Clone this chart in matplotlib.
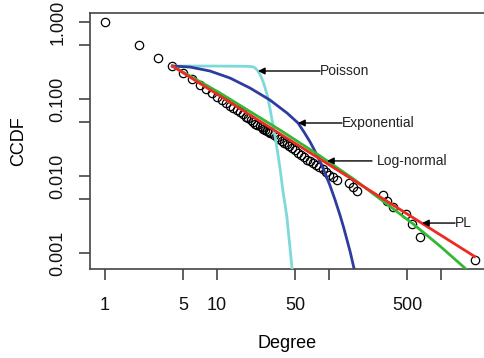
import matplotlib
matplotlib.use("Agg")
import matplotlib.pyplot as plt

plt.rcParams['font.family'] = ['Liberation Sans', 'DejaVu Sans']

# observed degree distribution (CCDF)
degree = [1, 2, 3, 4, 5, 6, 7, 8, 9, 10, 11, 12, 13, 14, 15, 16, 17, 18, 19, 20,
          21, 22, 23, 24, 25, 26, 27, 28, 29, 30, 32, 34, 36, 38, 40, 42, 44, 47,
          50, 53, 56, 60, 64, 68, 72, 77, 82, 88, 94, 100, 108, 118, 151, 165, 178,
          304, 330, 373, 487, 551, 650, 2013]
ccdf = [1.0, 0.50, 0.34, 0.268, 0.215, 0.18, 0.152, 0.133, 0.118, 0.106, 0.097,
        0.089, 0.082, 0.076, 0.071, 0.067, 0.063, 0.059, 0.056, 0.053, 0.051, 0.048,
        0.046, 0.044, 0.043, 0.041, 0.040, 0.038, 0.037, 0.036, 0.034, 0.032, 0.030,
        0.0285, 0.027, 0.0257, 0.0245, 0.023, 0.0215, 0.0200, 0.0188, 0.0175, 0.0163,
        0.0155, 0.0146, 0.0138, 0.0130, 0.0122, 0.0113, 0.0104, 0.0096, 0.0088,
        0.0080, 0.0072, 0.0064, 0.0056, 0.0048, 0.0040, 0.0032, 0.0024, 0.0016, 0.0008]

# fitted models
pois_x = [4, 8, 14, 18, 19.5, 20.9, 22.0, 23.2, 24.4, 25.7, 27.0, 28.5, 30.0,
          31.6, 33.3, 35.1, 37.0, 38.8, 40.5, 42.2, 43.5, 44.9, 46.7, 48.0]
pois_y = [0.268, 0.268, 0.267, 0.266, 0.265, 0.262, 0.252, 0.231, 0.204, 0.171,
          0.137, 0.103, 0.070, 0.046, 0.030, 0.0187, 0.0110, 0.00638, 0.0043,
          0.00285, 0.0018, 0.00116, 0.00064, 0.0004]
exp_x = [4, 5.74, 8.66, 13.1, 19.7, 29.7, 42.2, 52.9, 60, 67.7, 75, 83.1, 92,
         102, 113, 125, 135, 145, 155, 164, 172, 176]
exp_y = [0.268, 0.260, 0.231, 0.187, 0.139, 0.0971, 0.0658, 0.0488, 0.037,
         0.0278, 0.0210, 0.0155, 0.0110, 0.00755, 0.00495, 0.00315, 0.00216,
         0.00147, 0.00102, 0.000715, 0.00053, 0.00045]
lnorm_x = [4, 10.6, 36.5, 83.2, 170.7, 551, 980, 1671, 2140]
lnorm_y = [0.268, 0.120, 0.0396, 0.0182, 0.00887, 0.00245, 0.00123, 0.00062,
           0.00045]
pl_x = [4, 2000]
pl_y = [0.268, 0.0009]

# arrow labels: text, arrow tip (x, y), text x
labels = ['Poisson', 'Exponential', 'Log-normal', 'PL']
tip_x = [23.2, 52.9, 96, 677]
tip_y = [0.231, 0.0488, 0.0157, 0.00245]
line_end_x = [83.2, 130.6, 242, 1334]
text_x = [83.2, 130.6, 268, 1334]

fig = plt.figure(figsize=(4.84, 3.58), dpi=100)
ax = fig.add_axes([90 / 484, 89 / 358, 1 - 90 / 484, (269 - 13) / 358])

ax.plot(degree, ccdf, 'o', mfc='none', mec='black', ms=6, mew=0.9, zorder=2)
ax.plot(pois_x, pois_y, color='#7ed9d9', lw=2, zorder=3)
ax.plot(exp_x, exp_y, color='#2f3b9e', lw=2, zorder=3)
ax.plot(lnorm_x, lnorm_y, color='#33b833', lw=2, zorder=3)
ax.plot(pl_x, pl_y, color='#ee2a22', lw=2, zorder=4)

for lab, tx, ty, lx, xx in zip(labels, tip_x, tip_y, line_end_x, text_x):
    ax.annotate('', xy=(tx, ty), xytext=(lx, ty),
                arrowprops=dict(arrowstyle='-|>', color='black', lw=1,
                                mutation_scale=10, shrinkA=0, shrinkB=0),
                zorder=5)
    ax.text(xx, ty, lab, fontsize=10, va='center', ha='left', color='#222222')

ax.set_xscale('log')
ax.set_yscale('log')
ax.set_xlim(0.735, 2421)
ax.set_ylim(0.00062, 1.309)

ax.set_xticks([1, 5, 10, 50, 100, 500, 1000])
ax.set_xticklabels(['1', '5', '10', '50', '', '500', ''])
ax.set_xticks([], minor=True)
ax.set_yticks([1, 0.5, 0.1, 0.05, 0.01, 0.005, 0.001])
ax.set_yticklabels(['1.000', '', '0.100', '', '0.010', '', '0.001'], rotation=90,
                   va='center')
ax.set_yticks([], minor=True)
ax.tick_params(axis='both', length=8, width=1.2, color='#444444', labelsize=13,
               labelcolor='#111111')
ax.tick_params(axis='x', pad=12)
ax.tick_params(axis='y', pad=9)

ax.spines['right'].set_visible(False)
for s in ['left', 'bottom', 'top']:
    ax.spines[s].set_color('#444444')
    ax.spines[s].set_linewidth(1.2)

ax.set_xlabel('Degree', fontsize=13)
ax.set_ylabel('CCDF', fontsize=13)
ax.xaxis.set_label_coords(0.5, (269 - 335) / 256)
ax.yaxis.set_label_coords((27 - 90) / 394, 0.5)

fig.savefig('out.png', dpi=100)
